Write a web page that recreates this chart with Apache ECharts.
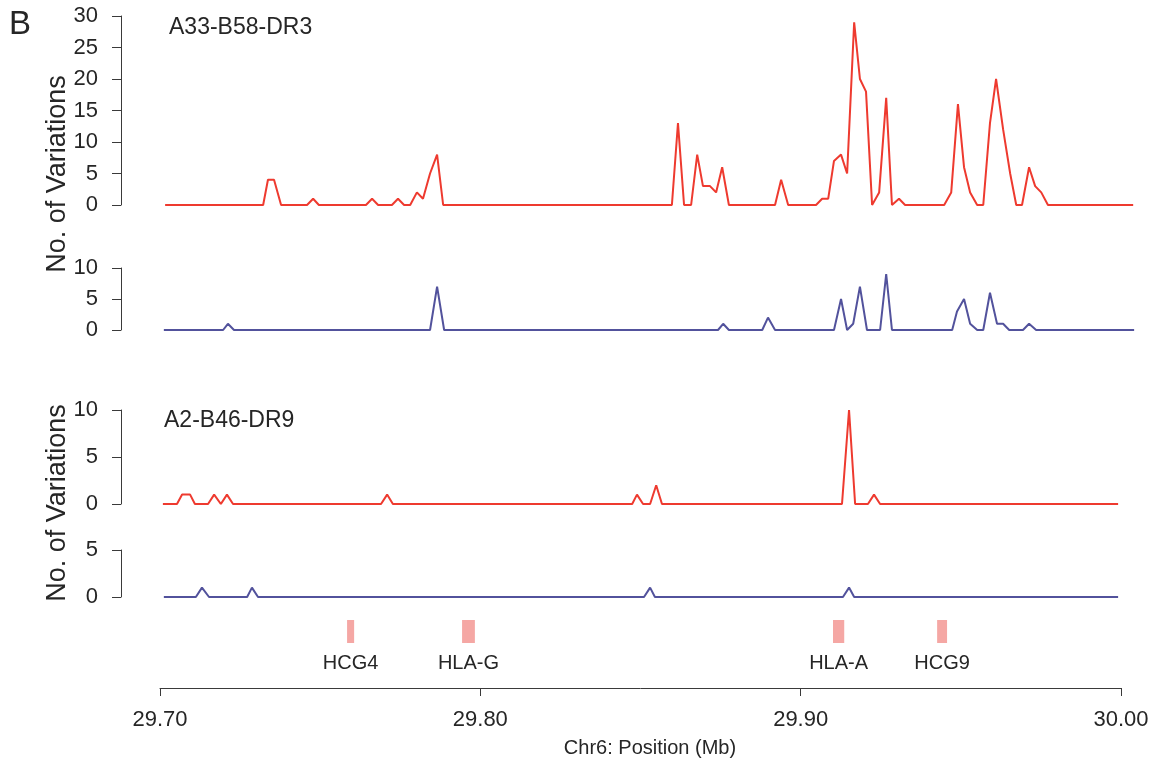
<!DOCTYPE html>
<html>
<head>
<meta charset="utf-8">
<script src="https://cdn.jsdelivr.net/npm/echarts@6/dist/echarts.min.js"></script>
<style>
  html, body { margin: 0; padding: 0; background: #fff; }
  #chart { width: 1158px; height: 769px; }
</style>
</head>
<body>
<div id="chart"></div>
<script>
// Variation counts along Chr6 (positions in Mb), two haplotypes, two samples each.
const hapTopRedPos = [29.7016, 29.7322, 29.7337, 29.7356, 29.7378, 29.7459, 29.7478, 29.7496, 29.7643, 29.7662,
  29.7681, 29.7724, 29.7743, 29.7762, 29.7781, 29.7802, 29.7821, 29.7843, 29.7865, 29.7884,
  29.8598, 29.8617, 29.8636, 29.8658, 29.8677, 29.8695, 29.8717, 29.8736, 29.8755, 29.8776,
  29.8920, 29.8939, 29.8961, 29.9048, 29.9067, 29.9086, 29.9104, 29.9126, 29.9145, 29.9167,
  29.9185, 29.9204, 29.9223, 29.9245, 29.9267, 29.9285, 29.9307, 29.9326, 29.9448, 29.9470,
  29.9491, 29.9510, 29.9529, 29.9551, 29.9570, 29.9591, 29.9610, 29.9632, 29.9654, 29.9673,
  29.9691, 29.9713, 29.9732, 29.9751, 29.9772, 30.0038];
const hapTopRedVal = [0, 0, 4, 4, 0, 0, 1, 0, 0, 1,
  0, 0, 1, 0, 0, 2, 1, 5, 8, 0,
  0, 13, 0, 0, 8, 3, 3, 2, 6, 0,
  0, 4, 0, 0, 1, 1, 7, 8, 5, 29,
  20, 18, 0, 2, 17, 0, 1, 0, 0, 2,
  16, 6, 2, 0, 0, 13, 20, 12, 5, 0,
  0, 6, 3, 2, 0, 0];

const hapTopBluePos = [29.7012, 29.7197, 29.7212, 29.7231, 29.7843, 29.7865, 29.7887, 29.8742, 29.8758, 29.8776,
  29.8880, 29.8898, 29.8920, 29.9104, 29.9126, 29.9145, 29.9164, 29.9185, 29.9207, 29.9248,
  29.9267, 29.9285, 29.9473, 29.9488, 29.9510, 29.9529, 29.9551, 29.9570, 29.9591, 29.9613,
  29.9632, 29.9651, 29.9694, 29.9713, 29.9735, 30.0041];
const hapTopBlueVal = [0, 0, 1, 0, 0, 7, 0, 0, 1, 0,
  0, 2, 0, 0, 5, 0, 1, 7, 0, 0,
  9, 0, 0, 3, 5, 1, 0, 0, 6, 1,
  1, 0, 0, 1, 0, 0];

const hapBottomRedPos = [29.7009, 29.7053, 29.7069, 29.7094, 29.7109, 29.7150, 29.7169, 29.7190, 29.7209, 29.7228,
  29.7690, 29.7709, 29.7727, 29.8474, 29.8489, 29.8508, 29.8530, 29.8549, 29.8567, 29.9129,
  29.9151, 29.9170, 29.9210, 29.9229, 29.9248, 29.9991];
const hapBottomRedVal = [0, 0, 1, 1, 0, 0, 1, 0, 1, 0,
  0, 1, 0, 0, 1, 0, 0, 2, 0, 0,
  10, 0, 0, 1, 0, 0];

const hapBottomBluePos = [29.7012, 29.7112, 29.7131, 29.7153, 29.7272, 29.7287, 29.7306, 29.8511, 29.8530, 29.8545,
  29.9132, 29.9151, 29.9167, 29.9991];
const hapBottomBlueVal = [0, 0, 1, 0, 0, 1, 0, 0, 1, 0,
  0, 1, 0, 0];

// Gene track
const geneNames = ['HCG4', 'HLA-G', 'HLA-A', 'HCG9'];
const geneStart = [29.7584, 29.7943, 29.9101, 29.9426];
const geneEnd = [29.7606, 29.7983, 29.9136, 29.9457];

// Axis ticks
const xTicks = [29.70, 29.80, 29.90, 30.00];
const panelLabels = ['A33-B58-DR3', 'A2-B46-DR9'];
const yTitle = 'No. of Variations';
const xTitle = 'Chr6: Position (Mb)';

const FONT = "'Liberation Sans', Arial, Helvetica, sans-serif";
const TEXT = '#262626';
const AXIS = '#3a3a3a';
const RED = '#ee3a2f';
const BLUE = '#52529c';

const zip = (a, b) => a.map((v, i) => [v, b[i]]);

const X_MIN = xTicks[0], X_MAX = xTicks[xTicks.length - 1];
const LEFT = 160, WIDTH = 961;
// Data panels run a little past the last tick, at the same scale as the position axis
const X_DATA_MAX = 30.01;
const DATA_WIDTH = WIDTH * (X_DATA_MAX - X_MIN) / (X_MAX - X_MIN);

// Panel layout
const panels = [
  { top: 16, height: 189, max: 30 },
  { top: 268, height: 62, max: 10 },
  { top: 410, height: 94, max: 10 },
  { top: 550, height: 47, max: 5 }
];

const grids = panels.map(p => ({ left: LEFT, width: DATA_WIDTH, top: p.top, height: p.height }));
grids.push({ left: LEFT, width: WIDTH, top: 610, height: 78 });

const xAxes = panels.map((p, i) => ({
  type: 'value', gridIndex: i, min: X_MIN, max: X_DATA_MAX, show: false
}));
xAxes.push({
  type: 'value', gridIndex: 4, min: X_MIN, max: X_MAX, interval: 0.1,
  axisLine: { show: true, lineStyle: { color: AXIS, width: 1 } },
  axisTick: { show: true, length: 8, lineStyle: { color: AXIS } },
  axisLabel: { fontSize: 22, fontFamily: FONT, color: TEXT, margin: 21,
    formatter: v => v.toFixed(2) },
  splitLine: { show: false }
});

const yAxes = panels.map((p, i) => ({
  type: 'value', gridIndex: i, min: 0, max: p.max, interval: 5, offset: 39,
  axisLine: { show: true, lineStyle: { color: AXIS, width: 1 } },
  axisTick: { show: true, length: 9, lineStyle: { color: AXIS } },
  axisLabel: { fontSize: 22, fontFamily: FONT, color: TEXT, margin: 23 },
  splitLine: { show: false }
}));
yAxes.push({ type: 'value', gridIndex: 4, min: 0, max: 1, show: false });

const lineSeries = (data, idx, color, width) => ({
  type: 'line', xAxisIndex: idx, yAxisIndex: idx, data,
  symbol: 'none', clip: false, silent: true,
  lineStyle: { color, width }
});

const geneData = geneNames.map((n, i) => [geneStart[i], geneEnd[i], n]);

const option = {
  animation: false,
  backgroundColor: '#ffffff',
  grid: grids,
  xAxis: xAxes,
  yAxis: yAxes,
  series: [
    lineSeries(zip(hapTopRedPos, hapTopRedVal), 0, RED, 2),
    lineSeries(zip(hapTopBluePos, hapTopBlueVal), 1, BLUE, 2),
    lineSeries(zip(hapBottomRedPos, hapBottomRedVal), 2, RED, 2),
    lineSeries(zip(hapBottomBluePos, hapBottomBlueVal), 3, BLUE, 2),
    {
      type: 'custom', xAxisIndex: 4, yAxisIndex: 4, data: geneData, silent: true,
      encode: { x: [0, 1] },
      renderItem: (params, api) => {
        const p0 = api.coord([api.value(0), 0.872]);
        const p1 = api.coord([api.value(1), 0.577]);
        const labelPos = api.coord([(api.value(0) + api.value(1)) / 2, 0.32]);
        return {
          type: 'group',
          children: [
            { type: 'rect',
              shape: { x: p0[0], y: p0[1], width: Math.max(p1[0] - p0[0], 6), height: p1[1] - p0[1] },
              style: { fill: '#f5a7a4' } },
            { type: 'text',
              style: { x: labelPos[0], y: labelPos[1], text: geneData[params.dataIndex][2],
                fontSize: 20, fontFamily: FONT, fill: TEXT, align: 'center', verticalAlign: 'middle' } }
          ]
        };
      }
    }
  ],
  graphic: [
    { type: 'text', x: 9, y: 25, style: { text: 'B', fontSize: 33, fontFamily: FONT, fill: TEXT, verticalAlign: 'middle' } },
    { type: 'text', x: 169, y: 28, style: { text: panelLabels[0], fontSize: 23, fontFamily: FONT, fill: TEXT, verticalAlign: 'middle' } },
    { type: 'text', x: 164, y: 421, style: { text: panelLabels[1], fontSize: 23, fontFamily: FONT, fill: TEXT, verticalAlign: 'middle' } },
    { type: 'text', x: 58, y: 174, rotation: Math.PI / 2,
      style: { text: yTitle, fontSize: 27, fontFamily: FONT, fill: TEXT, align: 'center', verticalAlign: 'middle' } },
    { type: 'text', x: 58, y: 503, rotation: Math.PI / 2,
      style: { text: yTitle, fontSize: 27, fontFamily: FONT, fill: TEXT, align: 'center', verticalAlign: 'middle' } },
    { type: 'text', x: 650, y: 748,
      style: { text: xTitle, fontSize: 20, fontFamily: FONT, fill: TEXT, align: 'center', verticalAlign: 'middle' } }
  ]
};

const chart = echarts.init(document.getElementById('chart'), null, { renderer: 'canvas' });
chart.setOption(option);
</script>
</body>
</html>
